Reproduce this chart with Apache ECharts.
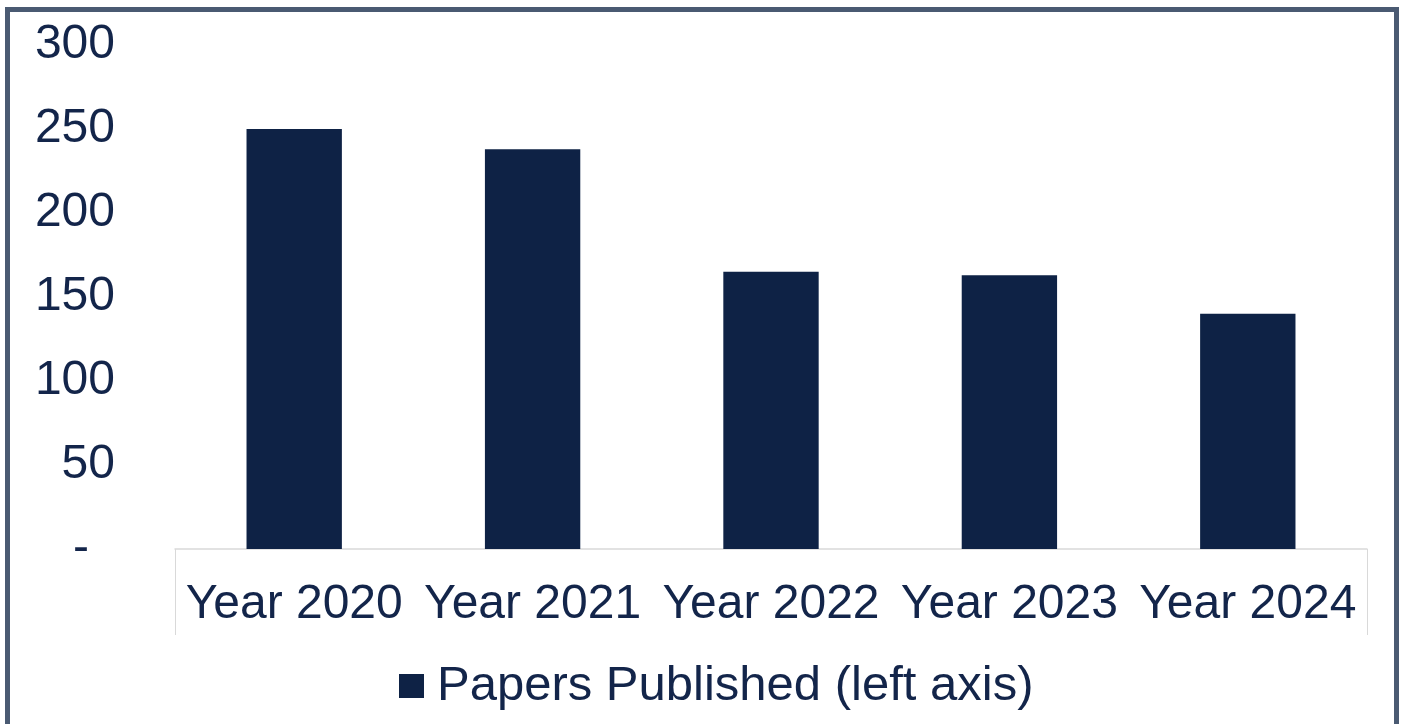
<!DOCTYPE html>
<html>
<head>
<meta charset="utf-8">
<style>
  html, body { margin: 0; padding: 0; background: #ffffff; overflow: hidden; }
  #frame { position: absolute; left: 5px; top: 7px; width: 1384px; height: 800px; border: 5px solid #4a5a72; box-sizing: content-box; }
  #chart { position: absolute; left: 0; top: 0; width: 1403px; height: 724px; }
</style>
<script src="https://cdn.jsdelivr.net/npm/echarts@6/dist/echarts.min.js"></script>
</head>
<body>
<div id="frame"></div>
<div id="chart"></div>
<script>
const categories = ['Year 2020', 'Year 2021', 'Year 2022', 'Year 2023', 'Year 2024'];
const papersPublished = [250, 238, 165, 163, 140];
const seriesName = 'Papers Published (left axis)';
const yTicks = [0, 50, 100, 150, 200, 250, 300];

const textColor = '#13254a';
const barColor = '#0e2245';
const font = 'Liberation Sans, Arial, sans-serif';

const chart = echarts.init(document.getElementById('chart'), null, { renderer: 'canvas' });
chart.setOption({
  animation: false,
  backgroundColor: 'transparent',
  grid: { left: 175, right: 36, top: 45, bottom: 175, containLabel: false },
  legend: {
    show: true,
    left: 394,
    top: 656,
    itemWidth: 25,
    itemHeight: 24,
    itemGap: 10,
    icon: 'rect',
    textStyle: { fontSize: 49, color: textColor, fontFamily: font, lineHeight: 50, padding: [0, 0, 0, 8] },
    data: [seriesName]
  },
  xAxis: {
    type: 'category',
    data: categories,
    axisLine: { show: true, lineStyle: { color: '#d9d9d9', width: 1.5 } },
    axisTick: { show: true, length: 86, interval: function (i) { return i === 0; }, lineStyle: { color: '#d9d9d9', width: 1 } },
    axisLabel: { interval: 0, fontSize: 48, color: textColor, fontFamily: font, margin: 32 },
    splitLine: { show: false }
  },
  yAxis: {
    type: 'value',
    min: yTicks[0],
    max: yTicks[yTicks.length - 1],
    interval: yTicks[1] - yTicks[0],
    axisLine: { show: false },
    axisTick: { show: false },
    splitLine: { show: false },
    axisLabel: {
      fontSize: 48,
      color: textColor,
      fontFamily: font,
      margin: 60,
      formatter: function (v) { return v === 0 ? '{d|-}' : String(v); },
      rich: { d: { fontSize: 48, color: textColor, fontFamily: font, padding: [0, 26, 0, 0] } }
    }
  },
  series: [{
    name: seriesName,
    type: 'bar',
    data: papersPublished,
    barWidth: '40%',
    itemStyle: { color: barColor }
  }]
});
</script>
</body>
</html>
